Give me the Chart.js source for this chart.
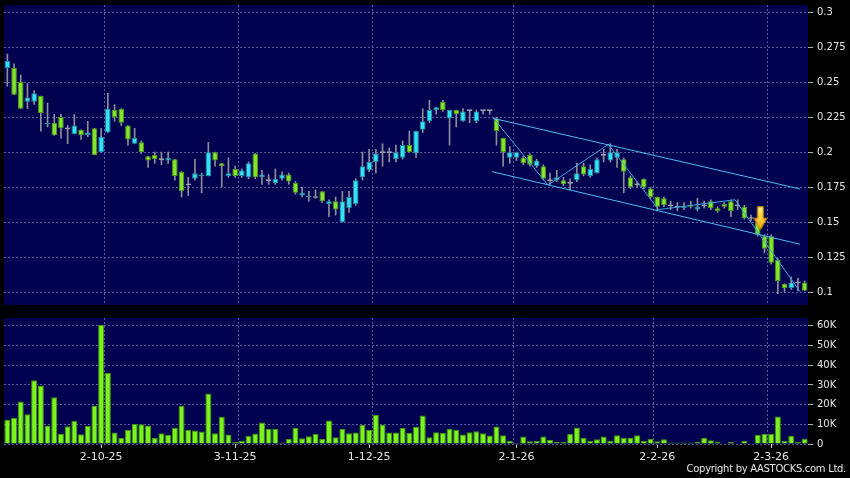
<!DOCTYPE html>
<html><head><meta charset="utf-8">
<script src="https://cdn.jsdelivr.net/npm/chart.js@4.4.1/dist/chart.umd.min.js"></script>
<style>
html,body{margin:0;padding:0;background:#000;width:850px;height:478px;overflow:hidden;position:relative}
canvas{position:absolute;left:0;top:0}
#copy{position:absolute;right:4px;top:463px;color:#e6e6e6;font:10px "DejaVu Sans";letter-spacing:-0.3px;white-space:nowrap}
</style></head><body>
<canvas id="c1" width="850" height="310"></canvas>
<canvas id="c2" width="850" height="168"></canvas>
<div id="copy">Copyright by AASTOCKS.com Ltd.</div>
<script>
const dates=['11-9-25','12-9-25','15-9-25','16-9-25','17-9-25','18-9-25','19-9-25','22-9-25','23-9-25','24-9-25','25-9-25','26-9-25','29-9-25','30-9-25',
'2-10-25','3-10-25','6-10-25','8-10-25','9-10-25','10-10-25','13-10-25','14-10-25','15-10-25','16-10-25','17-10-25','20-10-25','21-10-25','22-10-25','23-10-25','24-10-25','27-10-25','28-10-25','30-10-25','31-10-25',
'3-11-25','4-11-25','5-11-25','6-11-25','7-11-25','10-11-25','11-11-25','12-11-25','13-11-25','14-11-25','17-11-25','18-11-25','19-11-25','20-11-25','21-11-25','24-11-25','25-11-25','26-11-25','27-11-25','28-11-25',
'1-12-25','2-12-25','3-12-25','4-12-25','5-12-25','8-12-25','9-12-25','10-12-25','11-12-25','12-12-25','15-12-25','16-12-25','17-12-25','18-12-25','19-12-25','22-12-25','23-12-25','24-12-25','26-12-25','29-12-25','30-12-25','31-12-25',
'2-1-26','5-1-26','6-1-26','7-1-26','8-1-26','9-1-26','12-1-26','13-1-26','14-1-26','15-1-26','16-1-26','19-1-26','20-1-26','21-1-26','22-1-26','23-1-26','26-1-26','27-1-26','28-1-26','29-1-26','30-1-26',
'2-2-26','3-2-26','4-2-26','5-2-26','6-2-26','9-2-26','10-2-26','11-2-26','12-2-26','13-2-26','16-2-26','20-2-26','23-2-26','24-2-26','25-2-26','26-2-26','27-2-26',
'2-3-26','3-3-26','4-3-26','5-3-26','6-3-26','9-3-26'];

const openP=[
0.260,0.260,0.250,0.236,0.236,0.240,0.220,0.221,0.225,0.217,
0.213,0.216,0.212,0.217,0.200,0.214,0.230,0.231,0.219,0.206,
0.207,0.197,0.198,0.195,0.194,0.195,0.186,0.177,0.181,0.183,
0.183,0.200,0.192,0.183,0.188,0.183,0.182,0.199,0.182,0.180,
0.178,0.181,0.184,0.178,0.169,0.168,0.168,0.172,0.163,0.165,
0.150,0.160,0.163,0.182,0.187,0.193,0.200,0.200,0.195,0.196,
0.205,0.199,0.216,0.222,0.230,0.236,0.224,0.230,0.222,0.230,
0.222,0.230,0.230,0.224,0.210,0.196,0.196,0.196,0.198,0.190,
0.190,0.180,0.180,0.180,0.178,0.180,0.190,0.183,0.185,0.198,
0.194,0.196,0.195,0.182,0.177,0.181,0.174,0.168,0.167,0.162,
0.161,0.160,0.162,0.159,0.162,0.165,0.160,0.163,0.165,0.162,
0.161,0.153,0.150,0.140,0.140,0.123,0.106,0.103,0.107,0.107];
const highP=[
0.270,0.263,0.255,0.249,0.244,0.240,0.235,0.227,0.227,0.219,
0.227,0.216,0.222,0.217,0.217,0.242,0.234,0.231,0.219,0.217,
0.208,0.197,0.200,0.200,0.200,0.195,0.186,0.182,0.195,0.185,
0.207,0.200,0.192,0.196,0.190,0.188,0.193,0.199,0.187,0.184,
0.188,0.186,0.185,0.179,0.175,0.172,0.173,0.172,0.166,0.168,
0.172,0.172,0.181,0.200,0.202,0.202,0.206,0.203,0.205,0.208,
0.215,0.215,0.231,0.237,0.232,0.237,0.230,0.230,0.231,0.230,
0.230,0.230,0.230,0.225,0.210,0.204,0.200,0.197,0.199,0.195,
0.191,0.185,0.187,0.182,0.181,0.192,0.192,0.191,0.196,0.202,
0.206,0.202,0.196,0.183,0.179,0.181,0.175,0.168,0.168,0.165,
0.164,0.164,0.165,0.167,0.165,0.166,0.161,0.164,0.166,0.166,
0.162,0.155,0.153,0.141,0.141,0.124,0.106,0.111,0.110,0.108];
const lowP=[
0.247,0.241,0.231,0.231,0.234,0.215,0.218,0.212,0.210,0.206,
0.213,0.209,0.211,0.198,0.200,0.214,0.222,0.219,0.205,0.206,
0.199,0.189,0.192,0.191,0.192,0.180,0.168,0.169,0.180,0.171,
0.183,0.190,0.175,0.182,0.182,0.182,0.181,0.181,0.177,0.177,
0.177,0.180,0.177,0.170,0.168,0.165,0.167,0.164,0.154,0.155,
0.150,0.157,0.162,0.180,0.186,0.185,0.190,0.193,0.193,0.195,
0.200,0.196,0.214,0.221,0.227,0.229,0.205,0.218,0.222,0.221,
0.221,0.227,0.227,0.205,0.190,0.192,0.194,0.191,0.190,0.189,
0.180,0.177,0.179,0.176,0.173,0.179,0.183,0.182,0.185,0.193,
0.193,0.189,0.171,0.174,0.175,0.174,0.167,0.158,0.161,0.159,
0.158,0.159,0.160,0.158,0.160,0.159,0.157,0.160,0.154,0.159,
0.152,0.151,0.140,0.128,0.120,0.099,0.100,0.102,0.101,0.101];
const closeP=[
0.265,0.241,0.231,0.239,0.242,0.228,0.221,0.212,0.217,0.217,
0.219,0.212,0.214,0.198,0.211,0.231,0.225,0.221,0.209,0.210,
0.200,0.194,0.195,0.195,0.196,0.183,0.172,0.177,0.185,0.184,
0.200,0.194,0.190,0.185,0.183,0.187,0.192,0.182,0.184,0.180,
0.181,0.184,0.179,0.171,0.171,0.169,0.168,0.165,0.165,0.159,
0.165,0.168,0.180,0.190,0.193,0.199,0.200,0.200,0.200,0.205,
0.200,0.215,0.222,0.230,0.232,0.230,0.230,0.227,0.229,0.230,
0.229,0.230,0.230,0.215,0.200,0.200,0.200,0.192,0.191,0.194,
0.181,0.180,0.182,0.177,0.178,0.185,0.184,0.188,0.195,0.198,
0.200,0.200,0.186,0.175,0.177,0.175,0.168,0.161,0.162,0.162,
0.161,0.161,0.161,0.161,0.162,0.160,0.158,0.161,0.158,0.162,
0.153,0.153,0.141,0.131,0.121,0.108,0.103,0.107,0.107,0.101];
const volume=[
12300,13300,21600,15100,32400,29700,9400,23800,5100,9000,
11800,4900,9200,19600,60400,36100,5900,3200,7200,10200,
10000,9400,3200,5400,4600,8300,19400,7300,6800,6300,
25700,5400,13800,4800,1000,1700,4200,5300,10900,7800,
7700,700,2700,8300,2900,3900,5100,2600,11900,3400,
7800,5400,5800,9700,7200,14800,9900,5900,5900,8300,
5600,8800,14500,3400,6000,5600,7800,7200,4800,6000,
6500,5500,4300,8900,4400,1500,500,3800,1400,1500,
3800,2000,1200,1000,5100,8400,3200,1500,2400,3800,
1700,4400,3200,3200,4400,1500,2700,1400,2400,700,
700,700,700,1200,3100,1900,1200,300,1200,200,
1500,200,4600,5100,5100,14000,1500,4100,1000,2700];

const priceTicks=[0.1,0.125,0.15,0.175,0.2,0.225,0.25,0.275,0.3];
const volumeTicks=[0,10000,20000,30000,40000,50000,60000];
const tickLabels=['2-10-25','3-11-25','1-12-25','2-1-26','2-2-26','2-3-26'];
const gridDates=['3-10-25','4-11-25','2-12-25','2-1-26','2-2-26','2-3-26'];

// trend lines (x = trading-day index, y = price)
const channelUpper=[{x:72.5,y:0.2241},{x:118.3,y:0.1737}];
const channelLower=[{x:72.3,y:0.1861},{x:118.3,y:0.1343}];
const zigzag=[{x:72.5,y:0.2245},{x:80.7,y:0.1765},{x:89.7,y:0.2055},{x:97.2,y:0.1590},{x:108.6,y:0.1660},{x:118.3,y:0.1005}];
const arrowMark=[{x:112.4,y:0.1528}];

const PANEL='#000050', GRID='#58589a', TXT='#e4e4e4';
const labelIdx=tickLabels.map(d=>dates.indexOf(d));
const gridIdx=gridDates.map(d=>dates.indexOf(d));
const N=dates.length;

Chart.defaults.font.family='DejaVu Sans';
const areaBg={id:'areaBg',beforeDraw(ch){const {ctx,chartArea:a}=ch;ctx.save();ctx.fillStyle=PANEL;ctx.fillRect(a.left,a.top,a.right-a.left,a.bottom-a.top);ctx.restore();}};

const UP_F='#35e2f4',UP_B='#1c8ea0',DN_F='#84e62a',DN_B='#4a9a18',DJ='#9c9cac';
const bodies=openP.map((o,i)=>o===closeP[i]?[o-0.0006,o+0.0006]:[o,closeP[i]]);
const bodyFill=openP.map((o,i)=>closeP[i]>o?UP_F:closeP[i]<o?DN_F:DJ);
const bodyBorder=openP.map((o,i)=>closeP[i]>o?UP_B:closeP[i]<o?DN_B:DJ);
const wicks=lowP.map((l,i)=>[l,highP[i]]);

function makeArrow(){
  const c=document.createElement('canvas');c.width=14;c.height=24;
  const g=c.getContext('2d');
  const grd=g.createLinearGradient(0,0,0,24);
  grd.addColorStop(0,'#fff27a');grd.addColorStop(1,'#f2a300');
  g.fillStyle=grd;g.strokeStyle='#b87a00';g.lineWidth=1;
  g.beginPath();g.moveTo(4,0.5);g.lineTo(10,0.5);g.lineTo(10,12);g.lineTo(13.5,12);g.lineTo(7,23.5);g.lineTo(0.5,12);g.lineTo(4,12);g.closePath();
  g.fill();g.stroke();
  return c;
}
const arrowImg=makeArrow();

function priceConfig(){return {
  type:'bar',
  data:{labels:dates,datasets:[
    {data:wicks,backgroundColor:'#8e8e96',borderWidth:0,barThickness:1,grouped:false,order:3},
    {data:bodies,backgroundColor:bodyFill,borderColor:bodyBorder,borderWidth:1,borderSkipped:false,barPercentage:0.84,categoryPercentage:1,grouped:false,order:2},
    {type:'line',xAxisID:'xl',data:channelUpper,borderColor:'#4cbcf0',borderWidth:1,pointRadius:0,order:1},
    {type:'line',xAxisID:'xl',data:channelLower,borderColor:'#4cbcf0',borderWidth:1,pointRadius:0,order:1},
    {type:'line',xAxisID:'xl',data:zigzag,borderColor:'#3aa6e0',borderWidth:1,pointRadius:0,order:1},
    {type:'line',xAxisID:'xl',data:arrowMark,showLine:false,pointStyle:arrowImg,pointRadius:6,order:0}
  ]},
  options:{
    animation:false,responsive:false,devicePixelRatio:1,
    layout:{padding:0},
    plugins:{legend:{display:false},tooltip:{enabled:false}},
    scales:{
      x:{type:'category',offset:true,
        grid:{offset:true,drawTicks:false,color:c=>gridIdx.includes(c.index)?GRID:'rgba(0,0,0,0)'},
        border:{display:false,dash:[2,2]},
        ticks:{display:false,autoSkip:false},
        afterFit:s=>{s.height=0;}},
      xl:{type:'linear',display:false,offset:false,min:-0.5,max:N-0.5,grid:{offset:false}},
      y:{position:'right',min:0.0909,max:0.305,
        afterBuildTicks:s=>{s.ticks=priceTicks.map(v=>({value:v}));},
        ticks:{color:TXT,font:{size:10},padding:4,callback:v=>String(+Number(v).toFixed(3))},
        grid:{color:GRID,tickColor:'#b0b0b0',tickLength:5,tickBorderDash:[]},
        border:{display:false,dash:[2,2]},
        afterFit:s=>{s.width=42;}}
    }
  },
  plugins:[areaBg]
};}

function volumeConfig(){return {
  type:'bar',
  data:{labels:dates,datasets:[
    {data:volume,backgroundColor:'#7cf41c',borderColor:'#3e9a0c',borderWidth:1,barPercentage:0.9,categoryPercentage:1}
  ]},
  options:{
    animation:false,responsive:false,devicePixelRatio:1,
    layout:{padding:0},
    plugins:{legend:{display:false},tooltip:{enabled:false}},
    scales:{
      x:{type:'category',offset:true,
        grid:{offset:false,drawOnChartArea:false,tickLength:4,tickColor:c=>labelIdx.includes(c.index)?'#c8c8c8':'rgba(0,0,0,0)'},
        border:{display:false},
        ticks:{autoSkip:false,maxRotation:0,minRotation:0,color:TXT,font:{size:11},padding:3,
          callback:(v,i)=>labelIdx.includes(i)?dates[i]:''},
        afterFit:s=>{s.height=20;}},
      xg:{type:'category',position:'top',offset:true,
        grid:{offset:true,drawTicks:false,color:c=>gridIdx.includes(c.index)?GRID:'rgba(0,0,0,0)'},
        border:{display:false,dash:[2,2]},
        ticks:{display:false,autoSkip:false},
        afterFit:s=>{s.height=0;}},
      y:{position:'right',min:0,max:64000,
        afterBuildTicks:s=>{s.ticks=volumeTicks.map(v=>({value:v}));},
        ticks:{color:TXT,font:{size:10},padding:4,callback:v=>v===0?'0':(v/1000)+'K'},
        grid:{color:GRID,tickColor:'#b0b0b0',tickLength:5,tickBorderDash:[]},
        border:{display:false,dash:[2,2]},
        afterFit:s=>{s.width=42;}}
    }
  },
  plugins:[areaBg]
};}

// place a chart so that its plot area lands on the wanted page rectangle
function placeChart(id,makeCfg,want){
  const cv=document.getElementById(id);
  let ch=new Chart(cv,makeCfg());
  const a=ch.chartArea, W=cv.width, H=cv.height;
  const mL=a.left,mT=a.top,mR=W-a.right,mB=H-a.bottom;
  ch.destroy();
  cv.width=Math.round(want.w+mL+mR); cv.height=Math.round(want.h+mT+mB);
  cv.style.left=(want.x-mL)+'px'; cv.style.top=(want.y-mT)+'px';
  return new Chart(cv,makeCfg());
}
placeChart('c1',priceConfig,{x:4,y:5,w:804,h:300});
placeChart('c2',volumeConfig,{x:4,y:318,w:804,h:126});
</script>
</body></html>
